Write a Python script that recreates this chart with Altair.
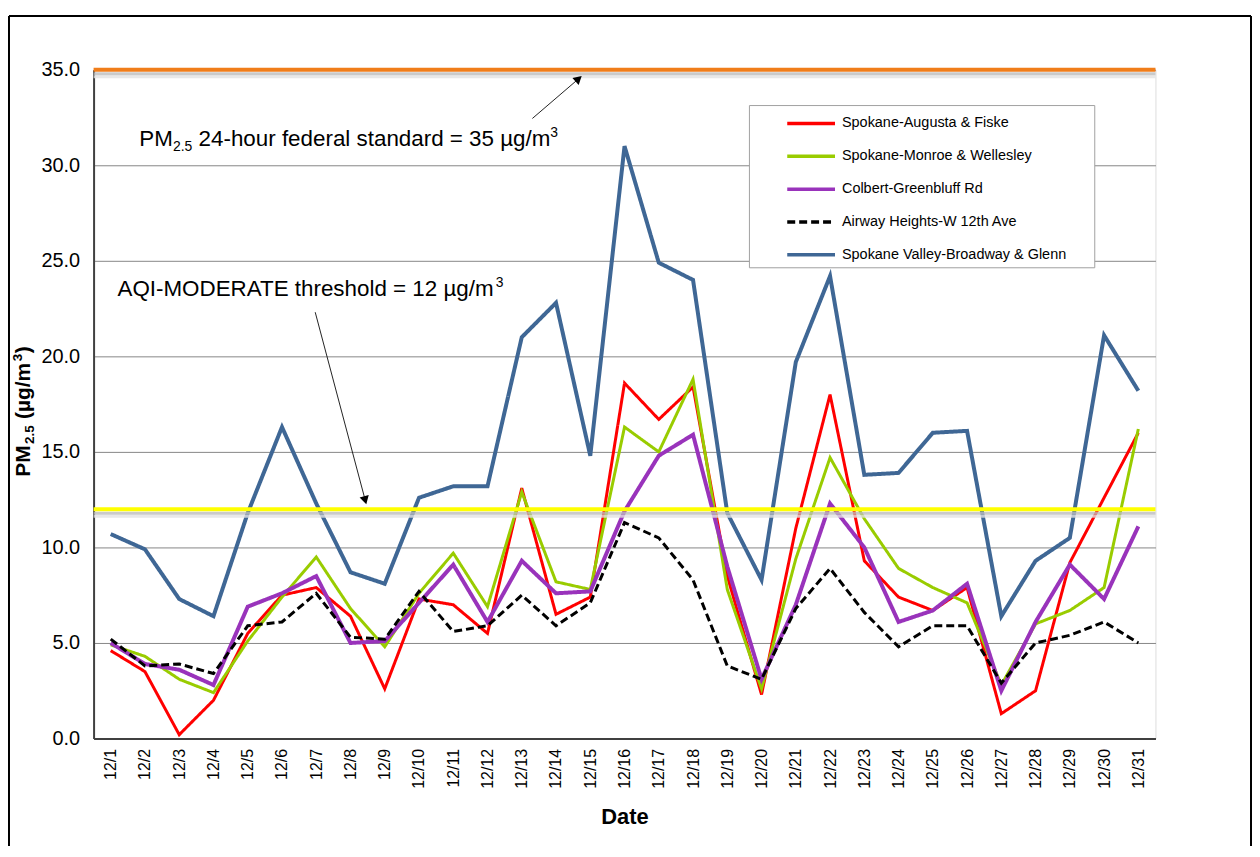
import json
import altair as alt
import pandas as pd

# ---------------- data ----------------
dates = ["12/1", "12/2", "12/3", "12/4", "12/5", "12/6", "12/7", "12/8", "12/9", "12/10",
         "12/11", "12/12", "12/13", "12/14", "12/15", "12/16", "12/17", "12/18", "12/19", "12/20",
         "12/21", "12/22", "12/23", "12/24", "12/25", "12/26", "12/27", "12/28", "12/29", "12/30", "12/31"]

series_names = ["Spokane-Augusta & Fiske", "Spokane-Monroe & Wellesley", "Colbert-Greenbluff Rd",
                "Airway Heights-W 12th Ave", "Spokane Valley-Broadway & Glenn"]

augusta = [4.6, 3.5, 0.2, 2.0, 5.5, 7.5, 7.9, 6.4, 2.6, 7.3, 7.0, 5.5, 13.1, 6.5, 7.4, 18.6,
           16.7, 18.4, 8.5, 2.3, 11.0, 18.0, 9.3, 7.4, 6.7, 7.9, 1.3, 2.5, 9.2, 12.6, 16.0]
monroe = [4.9, 4.3, 3.1, 2.4, 5.1, 7.4, 9.5, 6.8, 4.8, 7.6, 9.7, 6.9, 12.9, 8.2, 7.8, 16.3,
          15.0, 18.8, 7.8, 2.6, 9.4, 14.7, 11.5, 8.9, 7.9, 7.1, 2.8, 6.0, 6.7, 7.9, 16.2]
colbert = [5.0, 3.9, 3.6, 2.8, 6.9, 7.6, 8.5, 5.0, 5.1, 7.1, 9.1, 6.1, 9.3, 7.6, 7.7, 11.9,
           14.8, 15.9, 9.0, 3.1, 7.0, 12.3, 10.0, 6.1, 6.7, 8.1, 2.5, 6.1, 9.1, 7.3, 11.1]
airway = [5.2, 3.8, 3.9, 3.4, 5.9, 6.1, 7.6, 5.3, 5.2, 7.7, 5.6, 5.9, 7.5, 5.9, 7.1, 11.3,
          10.5, 8.3, 3.8, 3.1, 6.8, 8.9, 6.6, 4.8, 5.9, 5.9, 2.9, 5.0, 5.4, 6.1, 5.0]
valley = [10.7, 9.9, 7.3, 6.4, 11.8, 16.3, 12.3, 8.7, 8.1, 12.6, 13.2, 13.2, 21.0, 22.8, 14.8, 31.0,
          24.9, 24.0, 11.8, 8.3, 19.7, 24.2, 13.8, 13.9, 16.0, 16.1, 6.4, 9.3, 10.5, 21.1, 18.2]

all_values = [augusta, monroe, colbert, airway, valley]

y_ticks = [0, 5, 10, 15, 20, 25, 30, 35]
federal_standard = 35
aqi_moderate = 12

# annotation arrows (day position, value)
arrow_lines = [
    {"arrow": "a1", "day": 13.31, "v": 32.45},
    {"arrow": "a1", "day": 14.63, "v": 34.48},
    {"arrow": "a2", "day": 6.97, "v": 22.31},
    {"arrow": "a2", "day": 8.42, "v": 12.54},
]
arrow_heads = [
    {"day": 14.63, "v": 34.48, "ang": 49},
    {"day": 8.42, "v": 12.54, "ang": 165},
]
label1_pos = {"day": 1.836, "v": 31.03}
label2_pos = {"day": 1.197, "v": 23.18}

colors = ["#FF0000", "#99CC00", "#9933BB", "#000000", "#3F6795"]
dashes = [[1, 0], [1, 0], [1, 0], [8, 4], [1, 0]]
widths = [3, 3, 4, 3, 4]

FONT = "Liberation Sans"

rows = []
for name, vals, w in zip(series_names, all_values, widths):
    for i, v in enumerate(vals):
        rows.append({"series": name, "day": i + 1, "value": v, "w": w})
df = pd.DataFrame(rows)

W, H = 1067, 672

x_scale = alt.Scale(domain=[0.5, 31.5], nice=False, zero=False)
y_scale = alt.Scale(domain=[0, 35], nice=False)

label_expr = json.dumps(dates) + "[datum.value - 1]"

x_axis = alt.Axis(values=list(range(1, 32)), labelExpr=label_expr, labelAngle=270,
                  labelFontSize=16, labelFont=FONT, labelColor="#000000", labelPadding=10,
                  ticks=False, grid=False, domainColor="#404040", domainWidth=2,
                  title="Date", titleFont=FONT, titleFontSize=22, titleFontWeight="bold",
                  titleColor="#000000", titlePadding=18, labelOverlap=False)
y_axis = alt.Axis(values=y_ticks, format=".1f", labelFontSize=20, labelFont=FONT,
                  labelColor="#000000", labelPadding=14, ticks=False,
                  gridColor="#868686", gridWidth=1, domainColor="#404040", domainWidth=2,
                  title=None)

leg = alt.Legend(
    title=None, orient="none", legendX=695, legendY=28, direction="vertical",
    symbolType="stroke", symbolSize=2304, symbolStrokeWidth=3.5,
    labelFontSize=14.5, labelFont=FONT, labelColor="#000000", labelOffset=5,
    labelLimit=400, rowPadding=-2, padding=0,
)

XA = dict(scale=x_scale, axis=x_axis)
YA = dict(scale=y_scale, axis=y_axis)

lines = alt.Chart(df).mark_line().encode(
    x=alt.X("day:Q", **XA),
    y=alt.Y("value:Q", **YA),
    color=alt.Color("series:N", scale=alt.Scale(domain=series_names, range=colors), legend=leg),
    strokeDash=alt.StrokeDash("series:N", scale=alt.Scale(domain=series_names, range=dashes), legend=leg),
    strokeWidth=alt.StrokeWidth("w:Q", scale=None, legend=None),
    order=alt.Order("day:Q"),
)

ref_df = pd.DataFrame({"v": [federal_standard, aqi_moderate],
                       "c": ["#F07D1A", "#FFFF00"]})
shadow1 = alt.Chart(ref_df).mark_rule(strokeWidth=3, yOffset=4, color="#BDBDBD", opacity=0.8).encode(
    y=alt.Y("v:Q", **YA))
shadow2 = alt.Chart(ref_df).mark_rule(strokeWidth=3, yOffset=7, color="#E2E2E2", opacity=0.8).encode(
    y=alt.Y("v:Q", **YA))
refs = alt.Chart(ref_df).mark_rule(strokeWidth=4).encode(
    y=alt.Y("v:Q", **YA), color=alt.Color("c:N", scale=None))

arr_df = pd.DataFrame(arrow_lines)
arrows = alt.Chart(arr_df).mark_line(color="#222222", strokeWidth=1).encode(
    x=alt.X("day:Q", **XA), y=alt.Y("v:Q", **YA), detail="arrow:N")
heads = alt.Chart(pd.DataFrame(arrow_heads)).mark_point(
    shape="triangle", filled=True, color="#000000", size=90, opacity=1).encode(
    x=alt.X("day:Q", **XA), y=alt.Y("v:Q", **YA),
    angle=alt.Angle("ang:Q", scale=None))


def piece(pos, text, size, dx, dy=0):
    return alt.Chart(pd.DataFrame([pos])).mark_text(
        text=text, fontSize=size, font=FONT, align="left", baseline="alphabetic",
        dx=dx, dy=dy, color="#000000").encode(
        x=alt.X("day:Q", **XA), y=alt.Y("v:Q", **YA))


texts = [
    piece(label1_pos, "PM", 22.5, 0),
    piece(label1_pos, "2.5", 14, 33.7, 5),
    piece(label1_pos, "24-hour federal standard = 35 \u00b5g/m", 22.5, 59.5),
    piece(label1_pos, "3", 14, 413, -9),
    piece(label2_pos, "AQI-MODERATE threshold = 12 \u00b5g/m", 22.5, 0),
    piece(label2_pos, "3", 14, 380, -9),
]


def ytitle(text, size, xpix, ypix):
    return alt.Chart(pd.DataFrame({"t": [text]})).mark_text(
        text=text, fontSize=size, font=FONT, fontWeight="bold", angle=270,
        align="left", baseline="alphabetic", color="#000000").encode(
        x=alt.value(xpix), y=alt.value(ypix))


ytitles = [
    ytitle("PM", 21, -64, 409),
    ytitle("2.5", 13.5, -60, 376),
    ytitle("(\u00b5g/m", 21, -64, 351),
    ytitle("3", 13.5, -72, 293),
    ytitle(")", 21, -64, 285),
]

legend_box = alt.Chart(pd.DataFrame({"a": [0]})).mark_rect(
    fill="#FFFFFF", stroke="#A0A0A0", strokeWidth=1).encode(
    x=alt.value(659), x2=alt.value(1006), y=alt.value(36), y2=alt.value(199))

frame = alt.Chart(pd.DataFrame({"a": [0]})).mark_rule(color="#000000", strokeWidth=2)
frame_left = frame.encode(x=alt.value(-85), y=alt.value(-54), y2=alt.value(780))
frame_right = frame.encode(x=alt.value(1163), y=alt.value(-54), y2=alt.value(780))
frame_top = frame.encode(x=alt.value(-85), x2=alt.value(1163), y=alt.value(-54))

chart = alt.layer(
    frame_left, frame_right, frame_top,
    lines, shadow2, shadow1, refs, arrows, heads, *texts, *ytitles, legend_box,
).properties(
    width=W, height=H,
    padding={"left": 0, "top": 5, "right": 0, "bottom": 0},
).configure_view(
    stroke="#8C8C8C", strokeWidth=2,
).configure_axisX(
    labelOverlap=False,
).configure(background="#FFFFFF")

chart.save("out.html", embed_options={"renderer": "svg", "actions": False})
